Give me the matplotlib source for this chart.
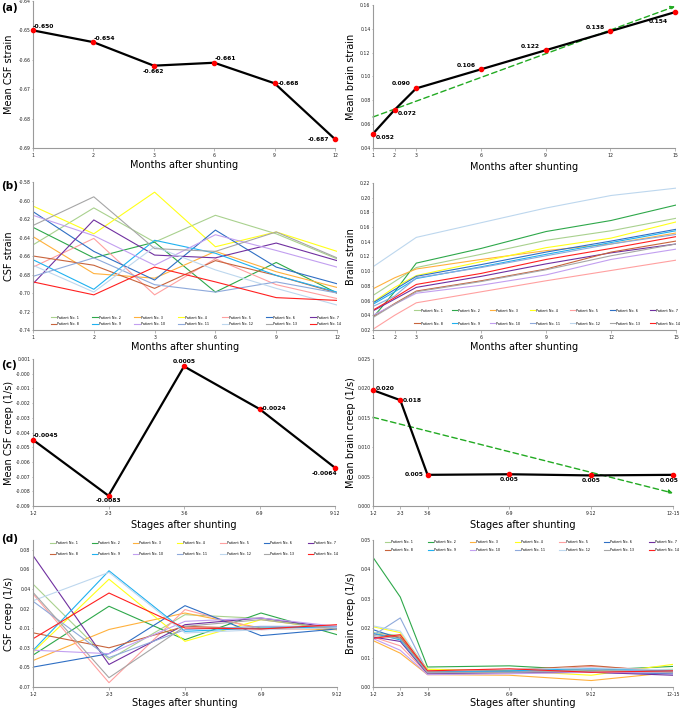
import matplotlib
matplotlib.use("Agg")
import matplotlib.pyplot as plt
import numpy as np

# ---------------- data ----------------
months_csf = ["1", "2", "3", "6", "9", "12"]
months_brain = [1, 2, 3, 6, 9, 12, 15]
stages_csf = ["1-2", "2-3", "3-6", "6-9", "9-12"]
stages_brain = ["1-2", "2-3", "3-6", "6-9", "9-12", "12-15"]
stage_start = [1, 2, 3, 6, 9, 12]

mean_csf_strain = [-0.650, -0.654, -0.662, -0.661, -0.668, -0.687]
mean_brain_strain = [0.052, 0.072, 0.090, 0.106, 0.122, 0.138, 0.154]
mean_csf_creep = [-0.0045, -0.0083, 0.0005, -0.0024, -0.0064]
mean_brain_creep = [0.0197, 0.0180, 0.0053, 0.0054, 0.0052, 0.0053]

patients = [f"Patient No. {i}" for i in range(1, 15)]
colors = ["#a9d18e", "#2ea84a", "#ffb13d", "#ffff1a", "#ffa0a0", "#2f6fc4", "#7030a0",
          "#c8643c", "#1fb1f0", "#c29ff0", "#8ea9db", "#bdd7ee", "#a6a6a6", "#ff2020"]

csf_strain = [
    [-0.648, -0.608, -0.645, -0.616, -0.636, -0.663],
    [-0.629, -0.662, -0.645, -0.699, -0.667, -0.700],
    [-0.639, -0.679, -0.684, -0.655, -0.677, -0.694],
    [-0.606, -0.636, -0.591, -0.650, -0.634, -0.655],
    [-0.672, -0.641, -0.702, -0.663, -0.691, -0.706],
    [-0.612, -0.655, -0.686, -0.632, -0.672, -0.690],
    [-0.690, -0.621, -0.659, -0.662, -0.646, -0.665],
    [-0.660, -0.670, -0.695, -0.665, -0.681, -0.700],
    [-0.664, -0.696, -0.643, -0.657, -0.681, -0.699],
    [-0.616, -0.638, -0.670, -0.637, -0.654, -0.672],
    [-0.682, -0.662, -0.691, -0.699, -0.688, -0.700],
    [-0.670, -0.699, -0.650, -0.675, -0.695, -0.713],
    [-0.627, -0.596, -0.652, -0.655, -0.634, -0.662],
    [-0.688, -0.702, -0.672, -0.688, -0.705, -0.708],
]

brain_strain = [
    [0.067, 0.086, 0.105, 0.123, 0.142, 0.155, 0.172],
    [0.037, 0.072, 0.111, 0.131, 0.154, 0.169, 0.190],
    [0.076, 0.091, 0.103, 0.116, 0.128, 0.137, 0.152],
    [0.058, 0.078, 0.094, 0.113, 0.132, 0.145, 0.167],
    [0.021, 0.040, 0.057, 0.072, 0.087, 0.101, 0.115],
    [0.057, 0.075, 0.093, 0.109, 0.126, 0.141, 0.157],
    [0.046, 0.062, 0.078, 0.093, 0.110, 0.125, 0.137],
    [0.038, 0.056, 0.073, 0.087, 0.103, 0.126, 0.141],
    [0.055, 0.072, 0.090, 0.106, 0.123, 0.139, 0.155],
    [0.040, 0.055, 0.070, 0.081, 0.095, 0.116, 0.130],
    [0.052, 0.066, 0.091, 0.105, 0.121, 0.137, 0.150],
    [0.106, 0.126, 0.146, 0.166, 0.186, 0.203, 0.213],
    [0.037, 0.055, 0.072, 0.086, 0.102, 0.121, 0.137],
    [0.047, 0.064, 0.082, 0.097, 0.116, 0.131, 0.147],
]

# CSF creep is read against the printed (uneven) tick labels, placed on a regular grid
csf_creep_ticks = [-0.06, -0.04, -0.02, 0.00, 0.02, 0.04, 0.06, 0.08]
csf_creep_ticklabels = ["-0.07", "-0.05", "-0.03", "-0.01", "0.02", "0.04", "0.06", "0.08"]
csf_creep = [
    [0.045, -0.032, 0.0138, 0.010, -0.0015],
    [-0.0275, 0.0224, -0.0117, 0.0155, -0.0066],
    [-0.033, -0.0013, 0.0155, 0.0002, -0.0015],
    [-0.0244, 0.050, -0.0134, 0.0087, -0.0015],
    [0.035, -0.0556, 0.019, -0.0015, 0.0002],
    [-0.0397, -0.026, 0.023, -0.0076, -0.0008],
    [0.0742, -0.037, 0.0036, 0.0104, 0.0002],
    [-0.0047, -0.020, 0.0019, -0.0005, 0.0019],
    [-0.0227, 0.0586, -0.0032, 0.0002, 0.0012],
    [-0.0224, -0.026, 0.007, 0.0104, 0.0019],
    [0.0275, -0.030, -0.0015, 0.0019, 0.0019],
    [0.028, 0.057, -0.0049, -0.0015, 0.0005],
    [0.0366, -0.0505, 0.0019, 0.0087, -0.001],
    [-0.0108, 0.0359, 0.0002, -0.0008, 0.0036],
]

brain_creep = [
    [0.0185, 0.0175, 0.0060, 0.0058, 0.0055, 0.0060],
    [0.0441, 0.0306, 0.0068, 0.0072, 0.0057, 0.0070],
    [0.0158, 0.0115, 0.0042, 0.0040, 0.0022, 0.0050],
    [0.0205, 0.0185, 0.0060, 0.0055, 0.0040, 0.0077],
    [0.0170, 0.0140, 0.0045, 0.0050, 0.0070, 0.0055],
    [0.0195, 0.0165, 0.0052, 0.0052, 0.0050, 0.0045],
    [0.0170, 0.0155, 0.0045, 0.0048, 0.0050, 0.0040],
    [0.0180, 0.0170, 0.0052, 0.0058, 0.0073, 0.0050],
    [0.0183, 0.0160, 0.0050, 0.0055, 0.0063, 0.0055],
    [0.0165, 0.0125, 0.0042, 0.0045, 0.0050, 0.0048],
    [0.0175, 0.0235, 0.0050, 0.0050, 0.0060, 0.0052],
    [0.0208, 0.0190, 0.0055, 0.0060, 0.0065, 0.0058],
    [0.0175, 0.0165, 0.0048, 0.0050, 0.0055, 0.0050],
    [0.0165, 0.0178, 0.0055, 0.0062, 0.0050, 0.0055],
]

# ---------------- figure ----------------
W, H = 680, 708
fig = plt.figure(figsize=(6.8, 7.08), dpi=100)


def make_ax(x0, x1, y0, y1):
    return fig.add_axes([x0 / W, 1 - y1 / H, (x1 - x0) / W, (y1 - y0) / H])


def style(ax, xlabel, ylabel, ylx=-0.063, xly=-0.085):
    for s in ["top", "right"]:
        ax.spines[s].set_visible(False)
    for s in ["left", "bottom"]:
        ax.spines[s].set_color("#9a9a9a")
        ax.spines[s].set_linewidth(0.8)
    ax.tick_params(labelsize=3.3, width=0.5, color="#9a9a9a", labelcolor="#222222")
    ax.tick_params(axis="x", length=2, pad=1.5)
    ax.tick_params(axis="y", length=1, pad=0.8)
    ax.set_xlabel(xlabel, fontsize=7)
    ax.set_ylabel(ylabel, fontsize=7)
    ax.yaxis.set_label_coords(ylx, 0.5)
    ax.xaxis.set_label_coords(0.5, xly)


def mean_line(ax, x, y):
    ax.plot(x, y, color="black", lw=1.6, zorder=2, clip_on=False)
    ax.plot(x, y, "o", color="red", ms=3, zorder=3, clip_on=False)


def label_points(ax, x, y, texts, specs):
    for xi, yi, t, (dx, dy, ha, va) in zip(x, y, texts, specs):
        ax.annotate(t, (xi, yi), xytext=(dx, dy), textcoords="offset points",
                    ha=ha, va=va, fontsize=4.3, fontweight="bold", zorder=4)


def trend(ax, x, y, x_end):
    z = np.polyfit(x, y, 1)
    p = np.poly1d(z)
    ax.annotate("", xy=(x_end, p(x_end)), xytext=(x[0], p(x[0])),
                arrowprops=dict(arrowstyle="-|>", color="#22aa22", lw=1.0,
                                linestyle=(0, (4, 2.5)), mutation_scale=6,
                                shrinkA=0, shrinkB=0),
                annotation_clip=False, zorder=1)


def patient_legend(ax, **kw):
    # legend fills column by column; reorder so that rows read P1..P7 / P8..P14
    handles, labels = ax.get_legend_handles_labels()
    order = [i + 7 * r for i in range(7) for r in range(2)]
    ax.legend([handles[k] for k in order], [labels[k] for k in order],
              ncol=7, fontsize=2.4, frameon=False, handlelength=1.6, handletextpad=0.3,
              borderaxespad=0, borderpad=0, **kw)


panel_kw = dict(fontsize=7.5, fontweight="bold", va="center")

# (a) left
ax = make_ax(33, 335, 1, 148)
xc = np.arange(len(months_csf))
mean_line(ax, xc, mean_csf_strain)
label_points(ax, xc, mean_csf_strain, [f"{v:.3f}" for v in mean_csf_strain],
             [(0, 1, "left", "bottom"), (0, 1, "left", "bottom"), (0, -2.5, "center", "top"),
              (0, 1, "left", "bottom"), (2, 0, "left", "center"), (-4, 0, "right", "center")])
ax.set_xlim(0, len(months_csf) - 1)
ax.set_xticks(xc, months_csf)
ax.set_ylim(-0.69, -0.64)
ax.set_yticks(np.arange(-0.69, -0.6399, 0.01))
ax.yaxis.set_major_formatter(plt.FormatStrFormatter("%.2f"))
style(ax, "Months after shunting", "Mean CSF strain", xly=-0.08)
fig.text(1 / W, 1 - 8 / H, "(a)", **panel_kw)

# (a) right
ax = make_ax(373, 675, 5, 148)
trend(ax, months_brain, mean_brain_strain, 15)
mean_line(ax, months_brain, mean_brain_strain)
label_points(ax, months_brain, mean_brain_strain, [f"{v:.3f}" for v in mean_brain_strain],
             [(2, -1, "left", "top"), (2, -1, "left", "top"), (-4, 2, "right", "bottom"),
              (-4, 1, "right", "bottom"), (-4, 1, "right", "bottom"), (-4, 1, "right", "bottom"),
              (-5, -5, "right", "top")])
ax.set_xlim(1, 15)
ax.set_xticks(months_brain)
ax.set_ylim(0.04, 0.16)
ax.set_yticks(np.arange(0.04, 0.1601, 0.02))
ax.yaxis.set_major_formatter(plt.FormatStrFormatter("%.2f"))
style(ax, "Months after shunting", "Mean brain strain", ylx=-0.056, xly=-0.098)

# (b) left
ax = make_ax(33, 337, 182, 330)
for name, c, vals in zip(patients, colors, csf_strain):
    ax.plot(xc, vals, color=c, lw=0.8, label=name)
ax.set_xlim(0, len(months_csf) - 1)
ax.set_xticks(xc, months_csf)
ax.set_ylim(-0.74, -0.58)
ax.set_yticks(np.arange(-0.74, -0.5799, 0.02))
ax.yaxis.set_major_formatter(plt.FormatStrFormatter("%.2f"))
style(ax, "Months after shunting", "CSF strain", xly=-0.08)
patient_legend(ax, loc="lower center", bbox_to_anchor=(0.535, 0.025), columnspacing=4.1,
               labelspacing=0.8)
fig.text(1 / W, 1 - 186 / H, "(b)", **panel_kw)

# (b) right
ax = make_ax(373, 676, 183, 330)
for name, c, vals in zip(patients, colors, brain_strain):
    ax.plot(months_brain, vals, color=c, lw=0.8, label=name)
ax.set_xlim(1, 15)
ax.set_xticks(months_brain)
ax.set_ylim(0.02, 0.22)
ax.set_yticks(np.arange(0.02, 0.2201, 0.02))
ax.yaxis.set_major_formatter(plt.FormatStrFormatter("%.2f"))
style(ax, "Months after shunting", "Brain strain", ylx=-0.056, xly=-0.08)
patient_legend(ax, loc="lower center", bbox_to_anchor=(0.575, 0.03), columnspacing=2.9,
               labelspacing=2.7)

# (c) left
ax = make_ax(33, 335, 359, 506)
xs = np.arange(len(stages_csf))
mean_line(ax, xs, mean_csf_creep)
label_points(ax, xs, mean_csf_creep, [f"{v:.4f}" for v in mean_csf_creep],
             [(0, 1, "left", "bottom"), (0, -2, "center", "top"), (0, 2, "center", "bottom"),
              (1, 0, "left", "center"), (2, -2, "right", "top")])
ax.set_xlim(0, len(stages_csf) - 1)
ax.set_xticks(xs, stages_csf)
ax.set_ylim(-0.009, 0.001)
ax.set_yticks(np.arange(-0.009, 0.00101, 0.001))
ax.yaxis.set_major_formatter(plt.FormatStrFormatter("%.3f"))
style(ax, "Stages after shunting", "Mean CSF creep (1/s)", xly=-0.095)
fig.text(1 / W, 1 - 365 / H, "(c)", **panel_kw)

# (c) right
ax = make_ax(373, 673, 359, 506)
trend(ax, stage_start, mean_brain_creep, 12)
mean_line(ax, stage_start, mean_brain_creep)
label_points(ax, stage_start, mean_brain_creep, [f"{v:.3f}" for v in mean_brain_creep],
             [(2, 1, "left", "center"), (2, 0, "left", "center"), (-3, 0, "right", "center"),
              (0, -2, "center", "top"), (0, -2, "center", "top"), (-3, -2, "center", "top")])
ax.set_xlim(1, 12)
ax.set_xticks(stage_start, stages_brain)
ax.set_ylim(0, 0.025)
ax.set_yticks(np.arange(0, 0.02501, 0.005))
ax.yaxis.set_major_formatter(plt.FormatStrFormatter("%.3f"))
style(ax, "Stages after shunting", "Mean brain creep (1/s)", ylx=-0.056, xly=-0.095)

# (d) left
ax = make_ax(33, 337, 540, 687)
for name, c, vals in zip(patients, colors, csf_creep):
    ax.plot(xs, vals, color=c, lw=0.8, label=name)
ax.set_xlim(0, len(stages_csf) - 1)
ax.set_xticks(xs, stages_csf)
ax.set_ylim(-0.06, 0.09)
ax.set_yticks(csf_creep_ticks, csf_creep_ticklabels)
style(ax, "Stages after shunting", "CSF creep (1/s)", xly=-0.075)
patient_legend(ax, loc="upper center", bbox_to_anchor=(0.53, 0.99), columnspacing=4.0,
               labelspacing=2.0)
fig.text(1 / W, 1 - 539 / H, "(d)", **panel_kw)

# (d) right
ax = make_ax(373, 673, 540, 687)
for name, c, vals in zip(patients, colors, brain_creep):
    ax.plot(stage_start, vals, color=c, lw=0.8, label=name)
ax.set_xlim(1, 12)
ax.set_xticks(stage_start, stages_brain)
ax.set_ylim(0, 0.05)
ax.set_yticks(np.arange(0, 0.0501, 0.01))
ax.yaxis.set_major_formatter(plt.FormatStrFormatter("%.2f"))
style(ax, "Stages after shunting", "Brain creep (1/s)", ylx=-0.056, xly=-0.075)
patient_legend(ax, loc="upper center", bbox_to_anchor=(0.53, 1.0), columnspacing=4.3,
               labelspacing=1.2)

fig.savefig("out.png", dpi=100)
